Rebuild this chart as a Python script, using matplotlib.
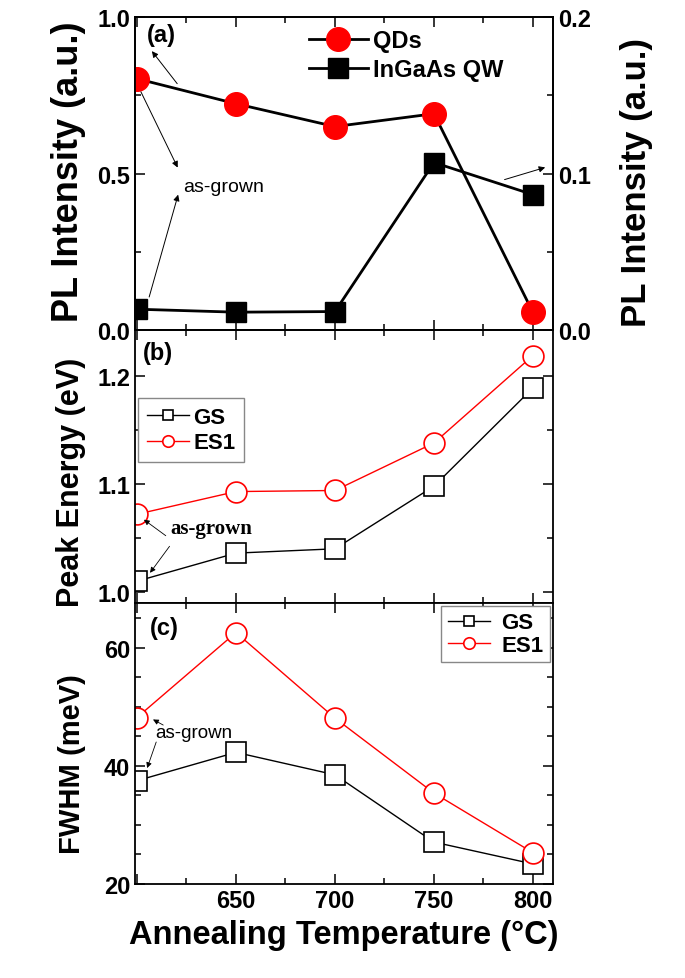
import matplotlib
matplotlib.use("Agg")
import matplotlib.pyplot as plt
from matplotlib.ticker import MultipleLocator, FuncFormatter

plt.rcParams['font.family'] = ['Liberation Sans', 'DejaVu Sans']
plt.rcParams['font.weight'] = 'bold'
plt.rcParams['axes.linewidth'] = 1.3

# ---- data ----
temps = [600, 650, 700, 750, 800]
qd_intensity = [0.803, 0.723, 0.650, 0.691, 0.056]
qw_intensity = [0.0133, 0.0114, 0.0118, 0.107, 0.0865]
peak_gs = [1.010, 1.036, 1.040, 1.098, 1.189]
peak_es1 = [1.072, 1.093, 1.094, 1.138, 1.219]
fwhm_gs = [37.5, 42.3, 38.5, 27.1, 23.4]
fwhm_es1 = [48.2, 62.6, 48.1, 35.4, 25.3]

fig = plt.figure(figsize=(6.85, 9.79), dpi=100)
gs = fig.add_gridspec(3, 1, left=0.197, right=0.807, top=0.9816, bottom=0.096,
                      hspace=0, height_ratios=[313, 273, 281])
ax1 = fig.add_subplot(gs[0])
ax2 = fig.add_subplot(gs[1], sharex=ax1)
ax3 = fig.add_subplot(gs[2], sharex=ax1)

TICK_FS = 17
LAB_X = -0.118


def style(ax, right=True):
    ax.tick_params(which='both', direction='in', top=True, right=right,
                   labelsize=TICK_FS, width=1.1)
    ax.tick_params(which='major', length=7)
    ax.tick_params(which='minor', length=4)
    for lab in ax.get_xticklabels() + ax.get_yticklabels():
        lab.set_fontweight('bold')


xfmt = FuncFormatter(lambda v, p: '' if abs(v - 600) < 1 else f'{v:.0f}')

# ---- panel (a) ----
ax1.set_xlim(599, 810)
ax1.xaxis.set_major_locator(MultipleLocator(50))
ax1.xaxis.set_minor_locator(MultipleLocator(25))
l_qd, = ax1.plot(temps, qd_intensity, '-', color='black', lw=2.0, marker='o',
                 ms=17, mfc='red', mec='red', label='QDs', zorder=3)
ax1.set_ylim(0, 1.0)
ax1.yaxis.set_major_locator(MultipleLocator(0.5))
ax1.yaxis.set_minor_locator(MultipleLocator(0.25))
ax1.yaxis.set_major_formatter(FuncFormatter(lambda v, p: f'{v:.1f}'))
ax1.set_ylabel('PL Intensity (a.u.)', fontsize=26, fontweight='bold')
ax1.yaxis.set_label_coords(LAB_X, 0.508)
style(ax1, right=False)

ax1r = ax1.twinx()
l_qw, = ax1r.plot(temps, qw_intensity, '-', color='black', lw=2.0, marker='s',
                  ms=14, mfc='black', mec='black', label='InGaAs QW', zorder=3)
ax1r.set_ylim(0, 0.2)
ax1r.yaxis.set_major_locator(MultipleLocator(0.1))
ax1r.yaxis.set_minor_locator(MultipleLocator(0.05))
ax1r.yaxis.set_major_formatter(FuncFormatter(lambda v, p: f'{v:.1f}'))
ax1r.tick_params(which='both', direction='in', labelsize=TICK_FS, width=1.1)
ax1r.tick_params(which='major', length=7)
ax1r.tick_params(which='minor', length=4)
for lab in ax1r.get_yticklabels():
    lab.set_fontweight('bold')
ax1r.set_ylabel('PL Intensity (a.u.)', fontsize=25, fontweight='bold')
ax1r.yaxis.set_label_coords(1.16, 0.473)

leg1 = ax1.legend(handles=[l_qd, l_qw], loc='upper left', bbox_to_anchor=(0.405, 0.976),
                  frameon=False, fontsize=17, handlelength=2.5, handletextpad=0.2,
                  labelspacing=0.25, borderpad=0.2, borderaxespad=0)
for t in leg1.get_texts():
    t.set_fontweight('bold')

ax1.text(605.0, 0.943, '(a)', fontsize=17, fontweight='bold', va='center', ha='left')
arr = dict(arrowstyle='-|>', color='black', lw=0.7, mutation_scale=9)
ax1.annotate('', xy=(606.7, 0.898), xytext=(621.2, 0.78), arrowprops=arr)
ax1.annotate('', xy=(621.2, 0.511), xytext=(601.4, 0.769), arrowprops=arr)
ax1.annotate('', xy=(621.2, 0.441), xytext=(605.8, 0.097), arrowprops=arr)
ax1.annotate('', xy=(807.5, 0.522), xytext=(784.3, 0.478), arrowprops=arr)
ax1.text(623.4, 0.457, 'as-grown', fontsize=14, fontweight='normal', va='center', ha='left')
plt.setp(ax1.get_xticklabels(), visible=False)

# ---- panel (b) ----
ax2.plot(temps, peak_gs, '-', color='black', lw=1.0, marker='s', ms=14,
         mfc='white', mec='black', mew=1.2, label='GS')
ax2.plot(temps, peak_es1, '-', color='red', lw=1.0, marker='o', ms=15,
         mfc='white', mec='red', mew=1.2, label='ES1')
ax2.set_ylim(0.9898, 1.2426)
ax2.yaxis.set_major_locator(MultipleLocator(0.1))
ax2.yaxis.set_minor_locator(MultipleLocator(0.05))
ax2.yaxis.set_major_formatter(FuncFormatter(lambda v, p: f'{v:.1f}'))
ax2.set_ylabel('Peak Energy (eV)', fontsize=22, fontweight='bold')
ax2.yaxis.set_label_coords(LAB_X, 0.447)
style(ax2)
leg2 = ax2.legend(loc='upper left', bbox_to_anchor=(0.007, 0.751), fontsize=16,
                  markerscale=0.55, handlelength=1.9, handletextpad=0.2,
                  labelspacing=0.2, borderpad=0.4, borderaxespad=0, fancybox=False,
                  edgecolor='#888888', framealpha=1)
leg2.get_frame().set_linewidth(1.0)
for t in leg2.get_texts():
    t.set_fontweight('bold')
ax2.text(603.1, 1.222, '(b)', fontsize=17, fontweight='bold', va='center', ha='left')
arr2 = dict(arrowstyle='-|>', color='black', lw=0.6, mutation_scale=8)
ax2.annotate('', xy=(602.4, 1.0685), xytext=(615.7, 1.0506), arrowprops=arr2)
ax2.annotate('', xy=(605.8, 1.0157), xytext=(617.3, 1.0444), arrowprops=arr2)
ax2.text(616.8, 1.0593, 'as-grown', fontsize=15, fontweight='bold',
         family=['Liberation Serif', 'DejaVu Serif'], va='center', ha='left')
plt.setp(ax2.get_xticklabels(), visible=False)

# ---- panel (c) ----
ax3.plot(temps, fwhm_gs, '-', color='black', lw=1.0, marker='s', ms=14,
         mfc='white', mec='black', mew=1.2, label='GS')
ax3.plot(temps, fwhm_es1, '-', color='red', lw=1.0, marker='o', ms=15,
         mfc='white', mec='red', mew=1.2, label='ES1')
ax3.set_ylim(20, 67.6)
ax3.yaxis.set_major_locator(MultipleLocator(20))
ax3.yaxis.set_minor_locator(MultipleLocator(5))
ax3.set_ylabel('FWHM (meV)', fontsize=21, fontweight='bold')
ax3.yaxis.set_label_coords(LAB_X, 0.43)
ax3.xaxis.set_major_formatter(xfmt)
style(ax3)
leg3 = ax3.legend(loc='upper right', bbox_to_anchor=(0.993, 0.99), fontsize=16,
                  markerscale=0.55, handlelength=1.9, handletextpad=0.5,
                  labelspacing=0.05, borderpad=0.3, borderaxespad=0, fancybox=False,
                  edgecolor='#888888', framealpha=1)
leg3.get_frame().set_linewidth(1.0)
for t in leg3.get_texts():
    t.set_fontweight('bold')
ax3.text(606.6, 63.5, '(c)', fontsize=17, fontweight='bold', va='center', ha='left')
ax3.annotate('', xy=(606.9, 48.1), xytext=(614.5, 46.7), arrowprops=arr2)
ax3.annotate('', xy=(604.7, 39.2), xytext=(610.2, 44.5), arrowprops=arr2)
ax3.text(609.1, 45.6, 'as-grown', fontsize=13.5, fontweight='normal', va='center', ha='left')
ax3.set_xlabel('Annealing Temperature (\u00b0C)', fontsize=23.5, fontweight='bold', labelpad=5)

fig.savefig('out.png', dpi=100)
